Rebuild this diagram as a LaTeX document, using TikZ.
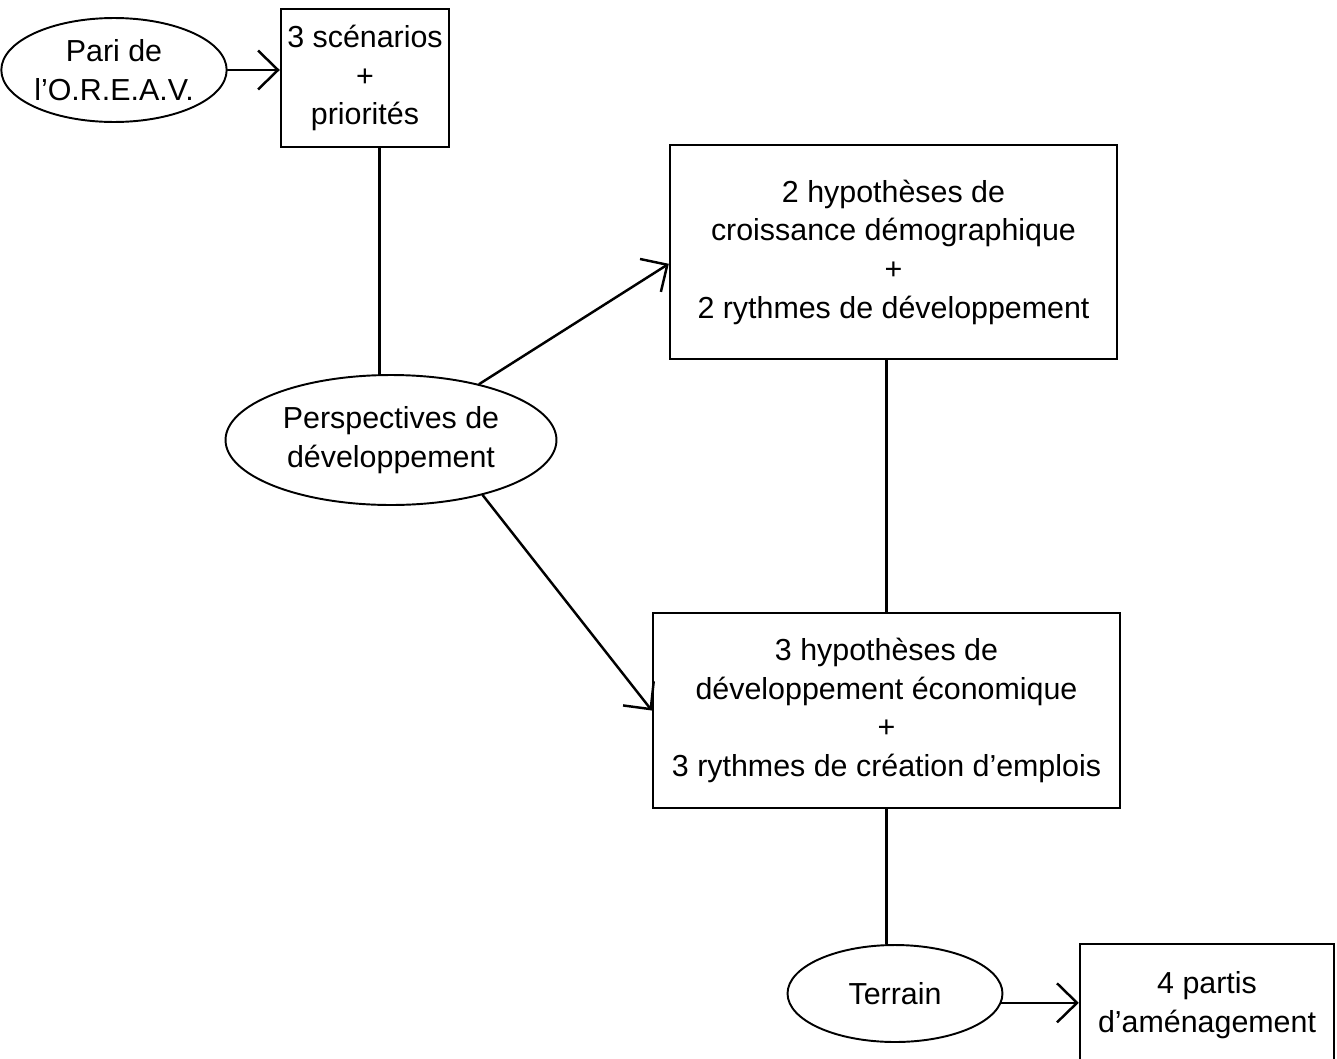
\documentclass[tikz,border=0pt]{standalone}
\usepackage{fontspec}
\setmainfont{Liberation Sans}
\usetikzlibrary{arrows.meta, shapes.geometric}

\begin{document}
\begin{tikzpicture}
% Style
[
    x=0.02cm, y=-0.02cm, line cap=round,
    font=\fontsize{17.3}{22}\selectfont,
    box/.style={draw, rectangle, line width=1.4pt, align=center, inner sep=0pt},
    oval/.style={draw, ellipse, line width=1.1pt, align=center, inner sep=0pt},
    link/.style={line width=1.4pt},
    arrow/.style={link, -{Straight Barb[length=0.4cm, width=0.78cm]}}
]

% Define: Frame
\useasboundingbox (0,0) rectangle (1337,1058);

%================================== Nodes ==================================
{
    % Draw: top row
    \node[oval, minimum width=4.36cm, minimum height=2.08cm] (pari) at (114,70) {Pari de\\l’O.R.E.A.V.};
    \node[box, minimum width=3.36cm, minimum height=2.76cm] (scen) at (365,78) {3 scénarios\\+\\priorités};

    % Draw: perspectives
    \node[oval, minimum width=6.62cm, minimum height=2.60cm] (persp) at (391,440) {Perspectives de\\développement};

    % Draw: hypotheses
    \node[box, minimum width=8.94cm, minimum height=4.28cm] (demo) at (893.5,252) {2 hypothèses de\\croissance démographique\\+\\2 rythmes de développement};
    \node[box, minimum width=9.34cm, minimum height=3.90cm] (eco) at (886.5,710.5) {3 hypothèses de\\développement économique\\+\\3 rythmes de création d’emplois};

    % Draw: bottom row
    \node[oval, minimum width=4.30cm, minimum height=1.94cm] (terrain) at (895,993.5) {Terrain};
    \node[box, minimum width=5.08cm, minimum height=2.44cm] (amen) at (1207,1005) {4 partis\\d’aménagement};
}

%================================ Connectors ================================
{
    \draw[arrow] (pari.east) -- (pari.east -| scen.west);
    \draw[link] (scen.south -| persp.100) -- (persp.100);
    \draw[arrow] (persp) -- (demo.183);
    \draw[arrow] (persp.-31) -- (eco.west);
    \draw[link] (demo.south -| eco.north) -- (eco.north);
    \draw[link] (eco.south) -- (eco.south |- terrain.north);
    \draw[arrow] (terrain.-5) -- (terrain.-5 -| amen.west);
}
%==================================== END ====================================

\end{tikzpicture}
\end{document}
